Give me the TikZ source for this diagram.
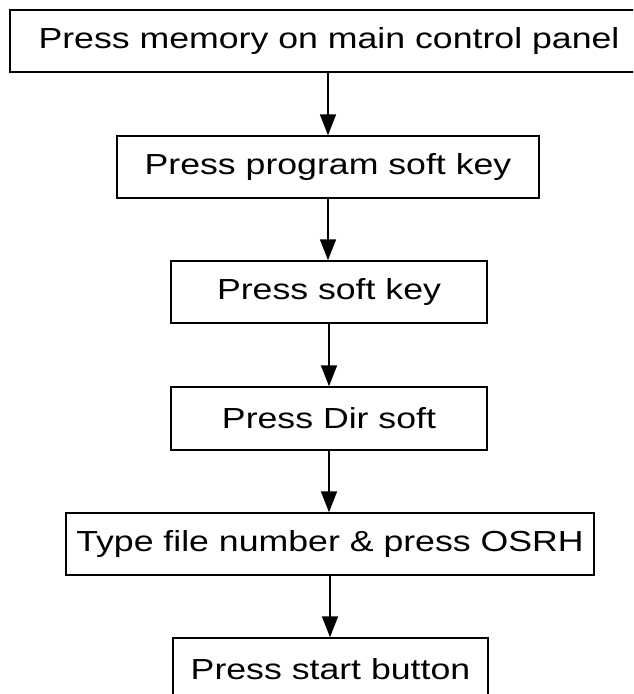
\documentclass[tikz,border=0pt]{standalone}
\usepackage{fontspec}
\setmainfont{Liberation Sans}[FakeStretch=1.23]
\usetikzlibrary{arrows.meta}
\tikzset{
  stepbox/.style={draw=black, line width=1.5pt, fill=white, inner sep=0pt, minimum height=62pt, font=\fontsize{29}{33}\selectfont, anchor=center},
  flow/.style={line width=1.8pt, -{Triangle[length=21pt, width=16pt]}}
}
\begin{document}
\begin{tikzpicture}[x=1pt, y=-1pt]
\path[use as bounding box] (0,0) rectangle (633,694);
\clip (0,0) rectangle (633,694);
\node[stepbox, minimum width=638pt] (b1) at (329,41) {Press memory on main control panel};
\node[stepbox, minimum width=422pt] (b2) at (328,167) {Press program soft key};
\node[stepbox, minimum width=316pt] (b3) at (329,292) {Press soft key};
\node[stepbox, minimum width=316pt, minimum height=63pt] (b4) at (329,418.5) {Press Dir soft};
\node[stepbox, minimum width=528pt] (b5) at (330,544) {Type file number \& press OSRH};
\node[stepbox, minimum width=315pt] (b6) at (330.5,669) {Press start button};
\draw[flow] (b1.south -| b2.north) -- (b2.north);
\draw[flow] (b2.south) -- (b2.south |- b3.north);
\draw[flow] (b3.south) -- (b4.north);
\draw[flow] (b4.south) -- (b4.south |- b5.north);
\draw[flow] (b5.south) -- (b6.north -| b5.south);
\end{tikzpicture}
\end{document}
